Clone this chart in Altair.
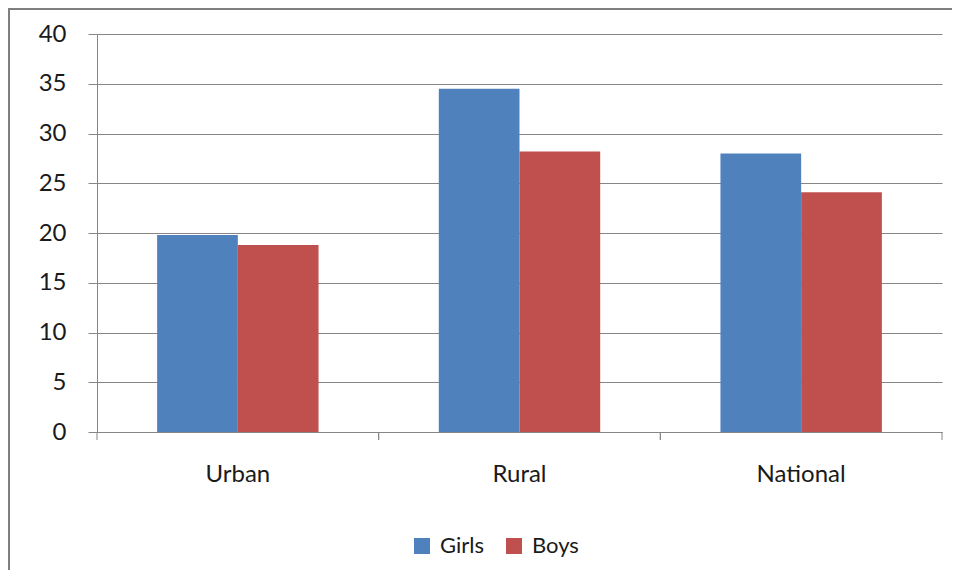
import altair as alt
import pandas as pd

categories = ["Urban", "Rural", "National"]
series = ["Girls", "Boys"]
girls = [19.8, 34.5, 28.0]
boys = [18.8, 28.2, 24.1]
colors = ["#4F81BD", "#C0504D"]
y_ticks = [0, 5, 10, 15, 20, 25, 30, 35, 40]

rows = []
for c, g, b in zip(categories, girls, boys):
    rows.append({"category": c, "series": "Girls", "value": g})
    rows.append({"category": c, "series": "Boys", "value": b})
df = pd.DataFrame(rows)
tick_df = pd.DataFrame({"category": categories})

FONT = "Lato"
GRAY = "#868686"
TXT = "#1a1a1a"

x_enc = alt.X(
    "category:N",
    sort=categories,
    title=None,
    scale=alt.Scale(paddingInner=0, paddingOuter=0),
    axis=alt.Axis(
        ticks=False, domain=True, domainColor=GRAY, labelAngle=0,
        labelFont=FONT, labelFontSize=24, labelColor=TXT, labelPadding=30,
    ),
)

y_enc = alt.Y(
    "value:Q",
    title=None,
    scale=alt.Scale(domain=[0, 40], nice=False),
    axis=alt.Axis(
        values=y_ticks, grid=True, gridColor=GRAY, gridWidth=1,
        domainColor=GRAY, tickColor=GRAY, tickSize=9, labelPadding=22,
        labelFont=FONT, labelFontSize=24, labelColor=TXT,
    ),
)

bars = alt.Chart(df).mark_bar(strokeWidth=0).encode(
    x=x_enc,
    y=y_enc,
    xOffset=alt.XOffset("series:N", sort=series,
                        scale=alt.Scale(paddingInner=0, paddingOuter=0.745)),
    color=alt.Color(
        "series:N",
        sort=series,
        scale=alt.Scale(domain=series, range=colors),
        legend=alt.Legend(
            title=None, orient="none", legendX=314, legendY=501,
            direction="horizontal", symbolType="square", symbolSize=256,
            symbolStrokeWidth=0, labelFont=FONT, labelFontSize=22,
            labelColor=TXT, labelOffset=7, columnPadding=19, padding=0,
        ),
    ),
)

ticks_left = alt.Chart(tick_df).mark_rule(color=GRAY).encode(
    x=alt.X("category:N", sort=categories, bandPosition=0),
    y=alt.value(398),
    y2=alt.value(406),
)
ticks_right = alt.Chart(tick_df).mark_rule(color=GRAY).encode(
    x=alt.X("category:N", sort=categories, bandPosition=1),
    y=alt.value(398),
    y2=alt.value(406),
)

frame = alt.Chart(alt.Data(values=[{"a": 1}])).mark_rect(
    filled=False, stroke="#7f7f7f", strokeWidth=2
).encode(
    x=alt.value(-88), x2=alt.value(3000), y=alt.value(-25), y2=alt.value(3000)
)

chart = alt.layer(frame, bars, ticks_left, ticks_right).properties(
    width=845,
    height=398,
    padding={"left": 89, "top": 26, "right": 10, "bottom": 138},
    autosize=alt.AutoSizeParams(type="none"),
).configure_view(stroke=None)

chart.save("out.html", embed_options={"renderer": "svg", "actions": False})
